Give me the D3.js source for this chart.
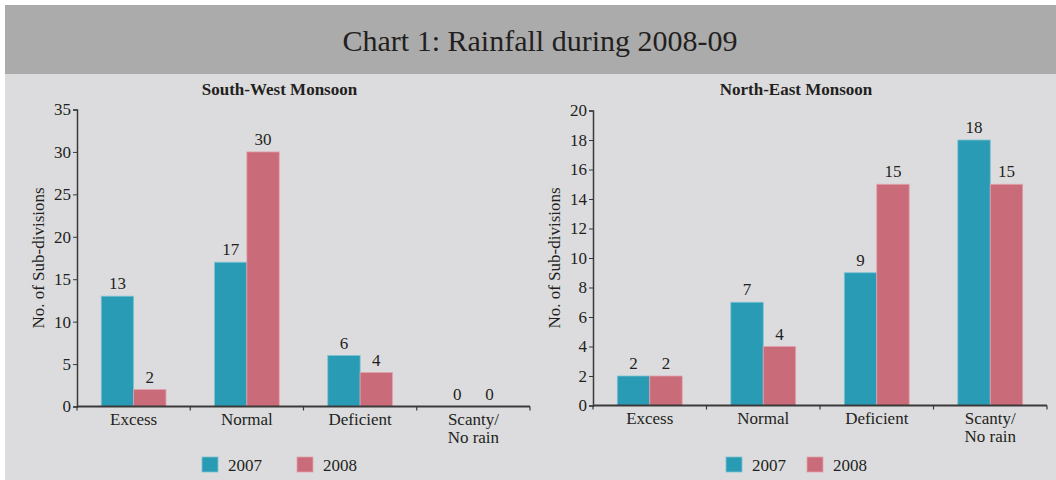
<!DOCTYPE html>
<html>
<head>
<meta charset="utf-8">
<script src="https://cdn.jsdelivr.net/npm/d3@7"></script>
<style>
  body { margin: 0; background: #ffffff; }
  svg text { font-family: "Liberation Serif", "DejaVu Serif", serif; fill: #231f20; }
</style>
</head>
<body>
<script>
// data
var categories = ['Excess', 'Normal', 'Deficient', 'Scanty/\nNo rain'];
var years = ['2007', '2008'];
var swValues2007 = [13, 17, 6, 0];
var swValues2008 = [2, 30, 4, 0];
var neValues2007 = [2, 7, 9, 18];
var neValues2008 = [2, 4, 15, 15];
var swTicks = [0, 5, 10, 15, 20, 25, 30, 35];
var neTicks = [0, 2, 4, 6, 8, 10, 12, 14, 16, 18, 20];

var colors = { '2007': '#2a9bb5', '2008': '#c96b79' };
var strokes = { '2007': '#7cc3d3', '2008': '#e2a3ad' };
var axisColor = '#3a3a3a';

var width = 1056, height = 480;

var svg = d3.select('body').append('svg')
  .attr('width', width)
  .attr('height', height);

// page background + title band
svg.append('rect')
  .attr('x', 0).attr('y', 0)
  .attr('width', width).attr('height', height)
  .attr('fill', '#ffffff');
svg.append('rect')
  .attr('x', 5).attr('y', 5)
  .attr('width', width - 5).attr('height', height - 5)
  .attr('fill', '#dcdcde');
svg.append('rect')
  .attr('x', 5).attr('y', 5)
  .attr('width', width - 5).attr('height', 69)
  .attr('fill', '#ababab');

svg.append('text')
  .attr('x', 540).attr('y', 51)
  .attr('text-anchor', 'middle')
  .attr('font-size', '30px')
  .text('Chart 1: Rainfall during 2008-09');

function drawPanel(opts) {
  var g = svg.append('g');

  var x = d3.scaleBand()
    .domain(categories)
    .range([opts.x0, opts.x1])
    .paddingInner(0).paddingOuter(0);

  var xs = d3.scaleBand()
    .domain(years)
    .range([0, x.bandwidth()])
    .paddingInner(0).paddingOuter(0.75);

  var y = d3.scaleLinear()
    .domain([0, opts.max])
    .range([opts.yBottom, opts.yTop]);

  // title
  g.append('text')
    .attr('x', (opts.x0 + opts.x1) / 2 - 24)
    .attr('y', 95)
    .attr('text-anchor', 'middle')
    .attr('font-size', '17px')
    .attr('font-weight', 'bold')
    .text(opts.title);

  // y axis label
  g.append('text')
    .attr('transform', 'translate(' + (opts.x0 - 33) + ',' + ((opts.yTop + opts.yBottom) / 2) + ')rotate(-90)')
    .attr('text-anchor', 'middle')
    .attr('font-size', '17px')
    .text('No. of Sub-divisions');

  var rows = categories.map(function(c, i) {
    return { cat: c, values: [
      { year: '2007', value: opts.v2007[i] },
      { year: '2008', value: opts.v2008[i] }
    ] };
  });

  var groups = g.selectAll('.grp')
    .data(rows)
    .enter().append('g')
    .attr('transform', function(d) { return 'translate(' + x(d.cat) + ',0)'; });

  groups.selectAll('rect')
    .data(function(d) { return d.values; })
    .enter().append('rect')
    .attr('x', function(d) { return xs(d.year); })
    .attr('y', function(d) { return y(d.value); })
    .attr('width', xs.bandwidth())
    .attr('height', function(d) { return y(0) - y(d.value); })
    .attr('fill', function(d) { return colors[d.year]; })
    .attr('stroke', function(d) { return strokes[d.year]; })
    .attr('stroke-width', 0.8);

  groups.selectAll('.val')
    .data(function(d) { return d.values; })
    .enter().append('text')
    .attr('x', function(d) { return xs(d.year) + xs.bandwidth() / 2; })
    .attr('y', function(d) { return y(d.value) - 7; })
    .attr('text-anchor', 'middle')
    .attr('font-size', '17px')
    .text(function(d) { return d.value; });

  // y axis
  var yAxis = g.append('g')
    .attr('transform', 'translate(' + opts.x0 + ',0)')
    .call(d3.axisLeft(y).tickValues(opts.ticks).tickSize(4).tickPadding(2));
  yAxis.select('.domain').attr('stroke', axisColor).attr('stroke-width', 1.5);
  yAxis.selectAll('.tick line').attr('stroke', axisColor);
  yAxis.selectAll('.tick text')
    .attr('font-size', '17px')
    .attr('font-family', '"Liberation Serif", serif')
    .attr('fill', '#231f20');

  // x axis with ticks at the band boundaries
  var xAxis = g.append('g')
    .attr('transform', 'translate(0,' + opts.yBottom + ')');
  xAxis.append('line')
    .attr('x1', opts.x0).attr('x2', opts.x1)
    .attr('stroke', axisColor).attr('stroke-width', 2);
  var bounds = [opts.x0].concat(categories.map(function(c) { return x(c) + x.bandwidth(); }));
  xAxis.selectAll('.btick')
    .data(bounds)
    .enter().append('line')
    .attr('x1', function(d) { return d; })
    .attr('x2', function(d) { return d; })
    .attr('y1', 0).attr('y2', 4)
    .attr('stroke', axisColor).attr('stroke-width', 1.2);

  var labels = xAxis.selectAll('.cat')
    .data(categories)
    .enter().append('text')
    .attr('x', function(d) { return x(d) + x.bandwidth() / 2; })
    .attr('y', 18)
    .attr('text-anchor', 'middle')
    .attr('font-size', '17px');
  labels.each(function(d) {
    var parts = d.split('\n');
    var t = d3.select(this);
    parts.forEach(function(p, i) {
      t.append('tspan')
        .attr('x', x(d) + x.bandwidth() / 2)
        .attr('dy', i === 0 ? 0 : 18)
        .text(p);
    });
  });

  // legend
  var legend = g.append('g')
    .attr('transform', 'translate(' + opts.legendX + ',457)');
  var items = legend.selectAll('.item')
    .data(years)
    .enter().append('g')
    .attr('transform', function(d, i) { return 'translate(' + (i * opts.legendStep) + ',0)'; });
  items.append('rect')
    .attr('width', 16).attr('height', 15)
    .attr('fill', function(d) { return colors[d]; })
    .attr('stroke', function(d) { return strokes[d]; })
    .attr('stroke-width', 0.8);
  items.append('text')
    .attr('x', 26).attr('y', 14)
    .attr('font-size', '17px')
    .text(function(d) { return d; });
}

drawPanel({
  title: 'South-West Monsoon',
  x0: 77, x1: 530, yTop: 109.5, yBottom: 406.5,
  max: 35, ticks: swTicks,
  v2007: swValues2007, v2008: swValues2008,
  legendX: 202, legendStep: 95
});

drawPanel({
  title: 'North-East Monsoon',
  x0: 593, x1: 1047, yTop: 110.5, yBottom: 405.5,
  max: 20, ticks: neTicks,
  v2007: neValues2007, v2008: neValues2008,
  legendX: 726, legendStep: 81
});
</script>
</body>
</html>
